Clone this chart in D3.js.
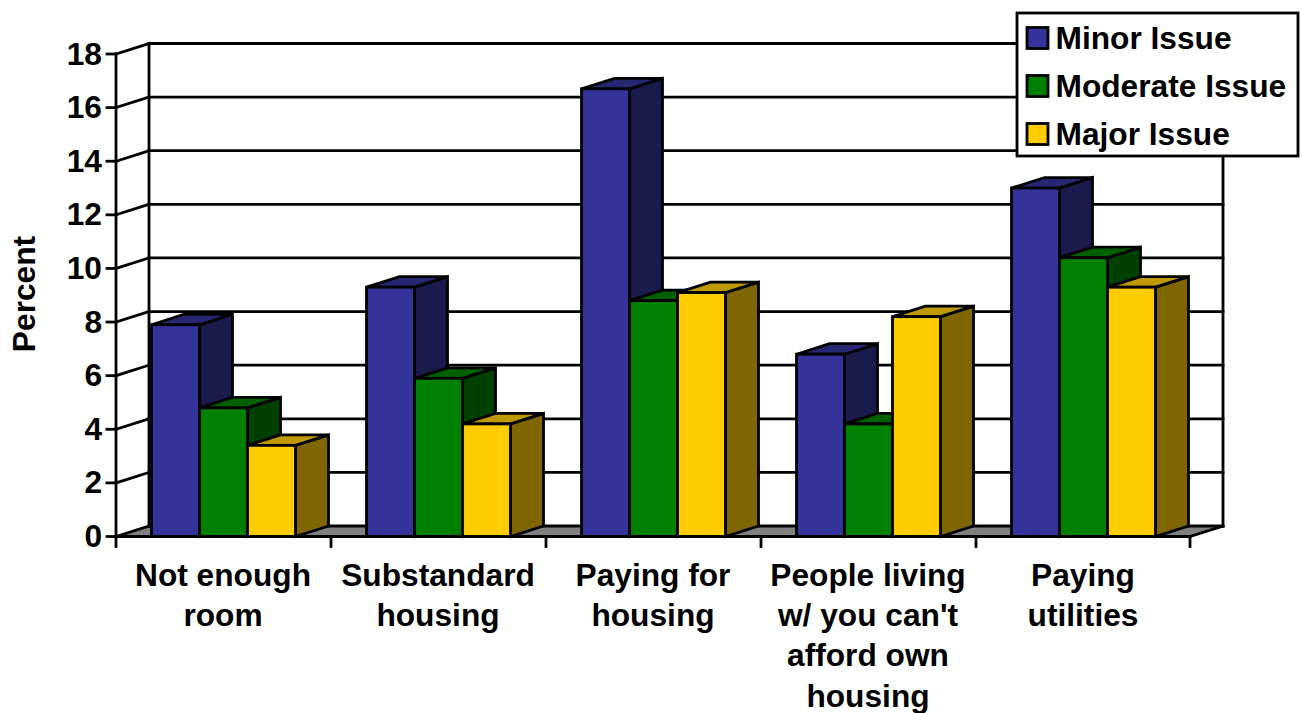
<!DOCTYPE html>
<html>
<head>
<meta charset="utf-8">
<script src="https://cdn.jsdelivr.net/npm/d3@7"></script>
<style>
html,body{margin:0;padding:0;background:#fff;}
svg{display:block;}
text{font-family:"Liberation Sans",Arial,sans-serif;font-weight:bold;fill:#000;}
</style>
</head>
<body>
<svg id="chart" width="1302" height="713"></svg>
<script>
const categories = [
  ["Not enough","room"],
  ["Substandard","housing"],
  ["Paying for","housing"],
  ["People living","w/ you can't","afford own","housing"],
  ["Paying","utilities"]
];
const seriesNames = ["Minor Issue","Moderate Issue","Major Issue"];
const minorValues = [7.9, 9.3, 16.7, 6.8, 13.0];
const moderateValues = [4.8, 5.9, 8.8, 4.2, 10.4];
const majorValues = [3.4, 4.2, 9.1, 8.2, 9.3];
const yTicks = [0,2,4,6,8,10,12,14,16,18];

const frontColors = ["#333399","#008000","#FFCC00"];
const topColors = ["#262673","#006000","#BF9900"];
const sideColors = ["#1A1A4D","#004000","#806600"];

const seriesValues = [minorValues, moderateValues, majorValues];
const svg = d3.select("#chart");
const stroke = 2.8;
const fontSize = 31.7;

// Oblique projection: the back wall sits up and to the right of the front plane
const depthX = 33, depthY = -10.5;
const y = d3.scaleLinear().domain([0,18]).range([536.5,54]);
const x = d3.scaleBand().domain(d3.range(categories.length)).range([116,1191]);
const xSeries = d3.scaleBand().domain(d3.range(3)).range([35.5,179.5]);

const poly = pts => pts.map(p => p.join(",")).join(" ");
const line = (g,x1,y1,x2,y2,w=stroke) => g.append("line")
  .attr("x1",x1).attr("y1",y1).attr("x2",x2).attr("y2",y2)
  .attr("stroke","#000").attr("stroke-width",w).attr("stroke-linecap","square");

// Floor
const x0 = x.range()[0], x1 = x.range()[1] - 1, y0 = y(0), yTop = y(18);
svg.append("polygon")
  .attr("points",poly([[x0,y0],[x0+depthX,y0+depthY],[x1+depthX,y0+depthY],[x1,y0]]))
  .attr("fill","#808080");

// Gridlines on the back and left walls
const walls = svg.append("g");
yTicks.forEach(t => {
  line(walls,x0+depthX,y(t)+depthY,x1+depthX,y(t)+depthY);
  line(walls,x0,y(t),x0+depthX,y(t)+depthY);
});
line(walls,x0+depthX,yTop+depthY,x0+depthX,y0+depthY);
line(walls,x1+depthX,yTop+depthY,x1+depthX,y0+depthY);
line(walls,x1,y0,x1+depthX,y0+depthY);

// Bars, left to right so nearer faces overlap correctly
const bars = svg.append("g")
  .attr("stroke","#000").attr("stroke-width",stroke).attr("stroke-linejoin","miter");
categories.forEach((_,c) => {
  seriesValues.forEach((vals,s) => {
    const l = x(c)+xSeries(s), r = l+xSeries.bandwidth(), t = y(vals[c]), b = y(0);
    bars.append("polygon")
      .attr("points",poly([[r,t],[r+depthX,t+depthY],[r+depthX,b+depthY],[r,b]]))
      .attr("fill",sideColors[s]);
    bars.append("polygon")
      .attr("points",poly([[l,t],[l+depthX,t+depthY],[r+depthX,t+depthY],[r,t]]))
      .attr("fill",topColors[s]);
    bars.append("rect")
      .attr("x",l).attr("y",t).attr("width",r-l).attr("height",b-t)
      .attr("fill",frontColors[s]);
  });
});

// Front axes
const axes = svg.append("g");
line(axes,x0,yTop,x0,y0);
line(axes,x0,y0,x1,y0);
yTicks.forEach(t => {
  line(axes,x0-9,y(t),x0,y(t));
  svg.append("text").attr("x",102).attr("y",y(t)+10.5)
    .attr("text-anchor","end").attr("font-size",fontSize).text(t);
});
d3.range(categories.length+1).forEach(i => {
  const px = i < categories.length ? x(i) : x1;
  line(axes,px,y0,px,y0+10);
});

// Category labels
categories.forEach((lines,c) => {
  const cx = x(c)+x.bandwidth()/2 - 0.5;
  lines.forEach((s,i) => {
    svg.append("text").attr("x",cx).attr("y",585.5+i*40.4)
      .attr("text-anchor","middle").attr("font-size",fontSize).text(s);
  });
});

// Axis title
svg.append("text")
  .attr("transform","translate(35,294) rotate(-90)")
  .attr("text-anchor","middle").attr("font-size",fontSize).text("Percent");

// Legend
const legend = svg.append("g");
legend.append("rect").attr("x",1017).attr("y",13).attr("width",281).attr("height",143)
  .attr("fill","#fff").attr("stroke","#000").attr("stroke-width",stroke);
seriesNames.forEach((n,i) => {
  const cy = 38+i*48;
  legend.append("rect").attr("x",1027).attr("y",cy-10.5).attr("width",21).attr("height",21)
    .attr("fill",frontColors[i]).attr("stroke","#000").attr("stroke-width",stroke);
  legend.append("text").attr("x",1055.5).attr("y",cy+10.5).attr("font-size",fontSize).text(n);
});
</script>
</body>
</html>
